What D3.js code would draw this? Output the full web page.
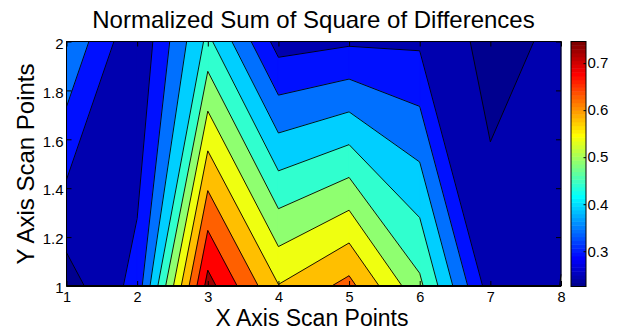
<!DOCTYPE html>
<html>
<head>
<meta charset="utf-8">
<script src="https://cdn.jsdelivr.net/npm/d3@7"></script>
<style>
  body { margin: 0; background: #fff; }
  svg { display: block; }
  text { font-family: "Liberation Sans", Arial, Helvetica, sans-serif; fill: #000; }
</style>
</head>
<body>
<svg id="chart" width="617" height="331"></svg>
<script>
// Scan grid: 8 points along X, 2 along Y
const xPoints = [1, 2, 3, 4, 5, 6, 7, 8];
const yPoints = [1, 2];
// Normalized sum of squared differences at each scan point
const zAtY1 = [0.225, 0.312, 0.746, 0.585, 0.646, 0.498, 0.270, 0.2465];
const zAtY2 = [0.386, 0.2505, 0.451, 0.275, 0.288, 0.287, 0.231, 0.257];
// Contour levels
const levels = [0.247, 0.295, 0.343, 0.391, 0.439, 0.487, 0.535, 0.583, 0.631, 0.679, 0.727];
// Tick labels
const xTicks = [1, 2, 3, 4, 5, 6, 7, 8];
const yTicks = [1, 1.2, 1.4, 1.6, 1.8, 2];
const cbarTicks = [0.3, 0.4, 0.5, 0.6, 0.7];

const titleText = "Normalized Sum of Square of Differences";
const xLabelText = "X Axis Scan Points";
const yLabelText = "Y Axis Scan Points";

// ---- jet colormap (64 entries) ----
function jetMap(m) {
  const n = Math.ceil(m / 4);
  const u = [];
  for (let i = 1; i <= n; i++) u.push(i / n);
  for (let i = 1; i < n; i++) u.push(1);
  for (let i = n; i >= 1; i--) u.push(i / n);
  const g0 = Math.ceil(n / 2) - (m % 4 === 1 ? 1 : 0);
  const cmap = Array.from({ length: m }, () => [0, 0, 0]);
  u.forEach((val, k) => {
    const gi = g0 + k + 1, ri = gi + n, bi = gi - n;
    if (gi >= 1 && gi <= m) cmap[gi - 1][1] = val;
    if (ri >= 1 && ri <= m) cmap[ri - 1][0] = val;
    if (bi >= 1 && bi <= m) cmap[bi - 1][2] = val;
  });
  return cmap.map(c => d3.rgb(c[0] * 255, c[1] * 255, c[2] * 255).formatHex());
}
const NC = 64;
const jet = jetMap(NC);
const allZ = zAtY1.concat(zAtY2);
const [cMin, cMax] = d3.extent(allZ);
function colorOf(v) {
  let idx = Math.floor((v - cMin) / (cMax - cMin) * NC);
  idx = Math.max(0, Math.min(NC - 1, idx));
  return jet[idx];
}

// ---- layout ----
const svg = d3.select("#chart");
const plot = { left: 66.5, right: 561, top: 41.5, bottom: 286 };
const x = d3.scaleLinear().domain([1, 8]).range([plot.left, plot.right]);
const y = d3.scaleLinear().domain([1, 2]).range([plot.bottom, plot.top]);

// ---- marching squares per cell ----
function cellPieces(c, L) {
  const above = c.map(p => p[2] >= L);
  const cross = (p, q) => {
    const t = (L - p[2]) / (q[2] - p[2]);
    return [p[0] + t * (q[0] - p[0]), p[1] + t * (q[1] - p[1]), true];
  };
  const ring = [];
  for (let i = 0; i < 4; i++) {
    const p = c[i], q = c[(i + 1) % 4];
    if (above[i]) ring.push([p[0], p[1], false]);
    if (above[i] !== above[(i + 1) % 4]) ring.push(cross(p, q));
  }
  if (ring.length === 0) return [];
  const saddle = above[0] === above[2] && above[1] === above[3] && above[0] !== above[1];
  if (saddle && d3.mean(c, p => p[2]) < L) {
    const pieces = [];
    for (let i = 0; i < 4; i++) {
      if (!above[i]) continue;
      const p = c[i], prev = c[(i + 3) % 4], next = c[(i + 1) % 4];
      pieces.push([cross(prev, p), [p[0], p[1], false], cross(p, next)]);
    }
    return pieces;
  }
  return [ring];
}

const cells = [];
for (let i = 0; i < xPoints.length - 1; i++) {
  cells.push([
    [xPoints[i], yPoints[0], zAtY1[i]],
    [xPoints[i + 1], yPoints[0], zAtY1[i + 1]],
    [xPoints[i + 1], yPoints[1], zAtY2[i + 1]],
    [xPoints[i], yPoints[1], zAtY2[i]]
  ]);
}

const gFill = svg.append("g");
const gLines = svg.append("g");

// lowest band
gFill.append("rect")
  .attr("x", plot.left).attr("y", plot.top)
  .attr("width", plot.right - plot.left).attr("height", plot.bottom - plot.top)
  .attr("fill", colorOf(cMin));

levels.forEach(L => {
  const pieces = cells.flatMap(c => cellPieces(c, L));
  if (!pieces.length) return;
  const d = pieces.map(r => "M" + r.map(p => x(p[0]) + "," + y(p[1])).join("L") + "Z").join("");
  const col = colorOf(L);
  gFill.append("path").attr("d", d).attr("fill", col)
    .attr("stroke", col).attr("stroke-width", 0.7).attr("stroke-linejoin", "round");
  // contour segments: consecutive crossing points of each piece
  let seg = "";
  pieces.forEach(r => {
    for (let i = 0; i < r.length; i++) {
      const p = r[i], q = r[(i + 1) % r.length];
      if (p[2] && q[2]) seg += "M" + x(p[0]) + "," + y(p[1]) + "L" + x(q[0]) + "," + y(q[1]);
    }
  });
  gLines.append("path").attr("d", seg).attr("fill", "none")
    .attr("stroke", "#000").attr("stroke-width", 0.9);
});

// ---- axes ----
const fmt = d => String(d);
const axB = svg.append("g").attr("transform", `translate(0,${plot.bottom})`)
  .call(d3.axisBottom(x).tickValues(xTicks).tickFormat(fmt).tickSize(-5).tickPadding(6));
const axL = svg.append("g").attr("transform", `translate(${plot.left},0)`)
  .call(d3.axisLeft(y).tickValues(yTicks).tickFormat(fmt).tickSize(-5).tickPadding(3));
const axT = svg.append("g").attr("transform", `translate(0,${plot.top})`)
  .call(d3.axisTop(x).tickValues(xTicks).tickFormat("").tickSize(-5));
const axR = svg.append("g").attr("transform", `translate(${plot.right},0)`)
  .call(d3.axisRight(y).tickValues(yTicks).tickFormat("").tickSize(-5));
[axB, axL, axT, axR].forEach(g => {
  g.select(".domain").remove();
  g.selectAll("line").attr("stroke", "#000").attr("stroke-width", 1);
  g.selectAll("text").attr("font-size", 15).attr("font-family", null).style("fill", "#000");
});
axB.selectAll("text").attr("font-size", 14.5);
axL.selectAll("text").attr("dy", "0.45em");

svg.append("rect")
  .attr("x", plot.left).attr("y", plot.top)
  .attr("width", plot.right - plot.left).attr("height", plot.bottom - plot.top)
  .attr("fill", "none").attr("stroke", "#000").attr("stroke-width", 1);
svg.append("line")
  .attr("x1", plot.left).attr("x2", plot.right)
  .attr("y1", plot.bottom).attr("y2", plot.bottom)
  .attr("stroke", "#000").attr("stroke-width", 2.2);

// ---- colorbar ----
const cb = { left: 571, right: 586, top: 41.5, bottom: 286.5 };
const cy = d3.scaleLinear().domain([cMin, cMax]).range([cb.bottom, cb.top]);
const step = (cMax - cMin) / NC;
svg.append("g").selectAll("rect").data(d3.range(NC)).join("rect")
  .attr("x", cb.left).attr("width", cb.right - cb.left)
  .attr("y", i => cy(cMin + (i + 1) * step))
  .attr("height", i => cy(cMin + i * step) - cy(cMin + (i + 1) * step) + 0.5)
  .attr("fill", i => jet[i]);
const axC = svg.append("g").attr("transform", `translate(${cb.right},0)`)
  .call(d3.axisRight(cy).tickValues(cbarTicks).tickFormat(fmt).tickSize(-2.5).tickPadding(1.5));
axC.select(".domain").remove();
axC.selectAll("line").attr("stroke", "#000");
axC.selectAll("text").attr("font-size", 15).attr("font-family", null).style("fill", "#000");
svg.append("rect")
  .attr("x", cb.left).attr("y", cb.top)
  .attr("width", cb.right - cb.left).attr("height", cb.bottom - cb.top)
  .attr("fill", "none").attr("stroke", "#000").attr("stroke-width", 1);

// ---- titles ----
svg.append("text").attr("x", 313.5).attr("y", 27.5).attr("text-anchor", "middle")
  .attr("font-size", 24).text(titleText);
svg.append("text").attr("x", 312).attr("y", 326).attr("text-anchor", "middle")
  .attr("font-size", 23).text(xLabelText);
svg.append("text").attr("transform", "translate(33.5,164) rotate(-90)")
  .attr("text-anchor", "middle").attr("font-size", 24).text(yLabelText);
</script>
</body>
</html>
